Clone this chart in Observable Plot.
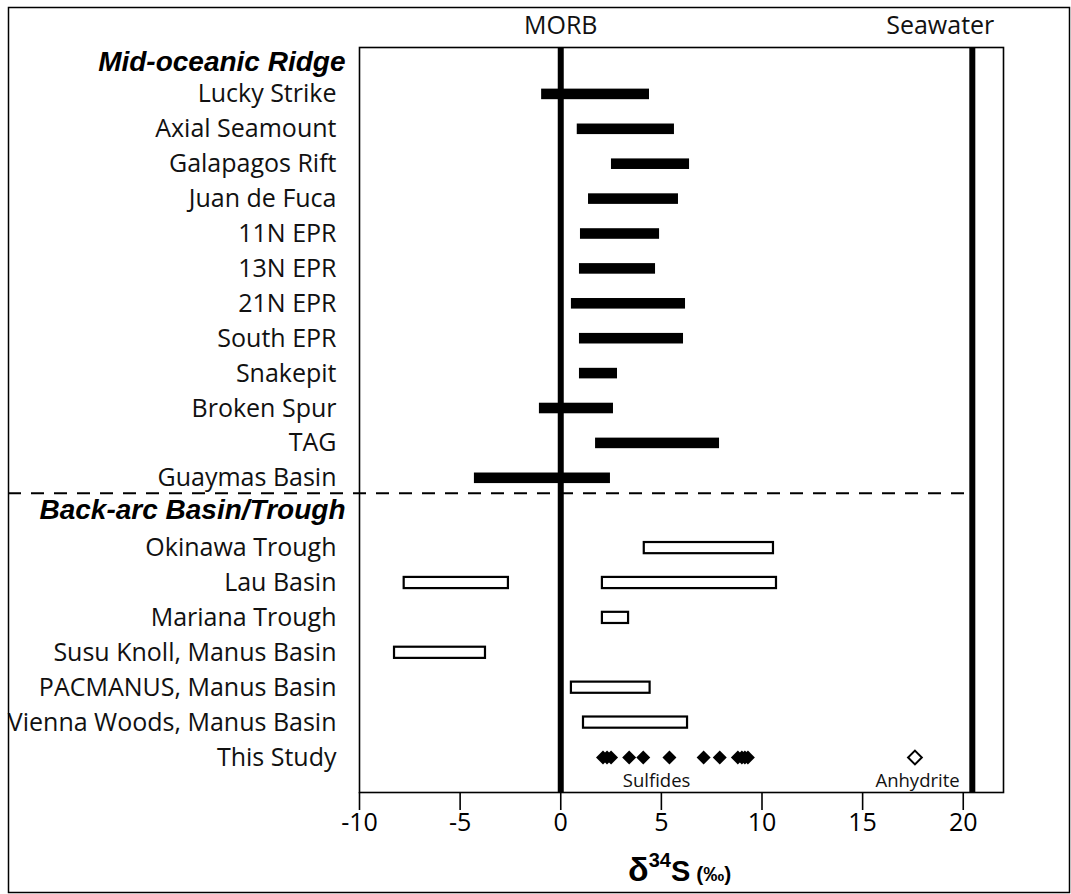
<!DOCTYPE html>
<html><head><meta charset="utf-8">
<script src="https://cdn.jsdelivr.net/npm/d3@7"></script>
<script src="https://cdn.jsdelivr.net/npm/@observablehq/plot@0.6"></script>
<style>
html,body{margin:0;padding:0;background:#fff;}
#chart{position:relative;width:1071px;height:894px;}
</style></head><body><div id="chart"></div>
<script>
// ---- data ----
const headerMOR = "Mid-oceanic Ridge";
const headerBAB = "Back-arc Basin/Trough";
const morSites = ["Lucky Strike","Axial Seamount","Galapagos Rift","Juan de Fuca","11N EPR","13N EPR","21N EPR","South EPR","Snakepit","Broken Spur","TAG","Guaymas Basin"];
const morLow  = [-0.95, 0.82, 2.52, 1.38, 0.98, 0.93, 0.53, 0.93, 0.93, -1.06, 1.73, -4.29];
const morHigh = [4.41, 5.65, 6.40, 5.85, 4.91, 4.71, 6.20, 6.10, 2.82, 2.62, 7.89, 2.47];
const babSites = ["Okinawa Trough","Lau Basin","Lau Basin","Mariana Trough","Susu Knoll, Manus Basin","PACMANUS, Manus Basin","Vienna Woods, Manus Basin"];
const babLow  = [4.15, -7.78, 2.07, 2.07, -8.26, 0.53, 1.13];
const babHigh = [10.57, -2.60, 10.72, 3.37, -3.74, 4.44, 6.30];
const studyLabel = "This Study";
const sulfides = [2.1, 2.3, 2.5, 3.4, 4.1, 5.4, 7.1, 7.9, 8.8, 9.0, 9.15, 9.3];
const anhydrite = [17.6];
const morbValue = 0;
const seawaterValue = 20.45;
const xTicks = [-10, -5, 0, 5, 10, 15, 20];
const refLabels = ["MORB", "Seawater"];
const phaseLabels = ["Sulfides", "Anhydrite"];
const phaseLabelX = [4.76, 17.73];

// ---- derived tables ----
const rows = [headerMOR, ...morSites, headerBAB, ...Array.from(new Set(babSites)), studyLabel];
const siteRows = rows.filter(r => r !== headerMOR && r !== headerBAB);
const morData = morSites.map((s, i) => ({site: s, lo: morLow[i], hi: morHigh[i]}));
const babData = babSites.map((s, i) => ({site: s, lo: babLow[i], hi: babHigh[i]}));
const refData = [{x: morbValue, t: refLabels[0]}, {x: seawaterValue, t: refLabels[1]}];
const phaseData = phaseLabels.map((t, i) => ({t, x: phaseLabelX[i]}));

// ---- layout ----
const W = 1071, H = 894;
const n = rows.length, pin = 0.68;
const firstCenter = 59, lastCenter = 757;
const step = (lastCenter - firstCenter) / (n - 1);
const bw = step * (1 - pin);
const yRange = [firstCenter - bw / 2, lastCenter + bw / 2];
const sans = "'Open Sans', 'Noto Sans', sans-serif";
const arial = "'Liberation Sans', Arial, sans-serif";
const headerStyle = {x: () => -10, y: d => d, text: d => d, textAnchor: "end", dx: -14, fontSize: 28, fontWeight: "bold", fontStyle: "italic", fontFamily: arial, fill: "#000"};

const plot = Plot.plot({
  width: W, height: H,
  marginTop: 47, marginBottom: 102, marginLeft: 359, marginRight: 68,
  x: {domain: [-10, 22]},
  y: {type: "band", domain: rows, range: yRange, paddingInner: pin, paddingOuter: 0, round: false, axis: null},
  style: {fontFamily: sans, color: "#000", background: "#fff"},
  marks: [
    Plot.frame({stroke: "#000", strokeWidth: 1.6}),
    Plot.ruleX([morbValue, seawaterValue], {stroke: "#000", strokeWidth: 6}),
    Plot.barX(morData, {y: "site", x1: "lo", x2: "hi", fill: "#000", insetTop: 0.3, insetBottom: 0.3}),
    Plot.barX(babData, {y: "site", x1: "lo", x2: "hi", fill: "#fff", stroke: "#000", strokeWidth: 2.2}),
    Plot.dot(sulfides, {x: d => d, y: () => studyLabel, symbol: "diamond2", r: 6.3, fill: "#000", stroke: "none"}),
    Plot.dot(anhydrite, {x: d => d, y: () => studyLabel, symbol: "diamond2", r: 6.2, fill: "#fff", stroke: "#000", strokeWidth: 2}),
    Plot.text(phaseData, {x: "x", y: () => studyLabel, text: "t", dy: 24, fontSize: 18.5, fill: "#111"}),
    Plot.text(siteRows, {x: () => -10, y: d => d, text: d => d, textAnchor: "end", dx: -23, fontSize: 25, fill: "#111"}),
    Plot.text([headerMOR], {...headerStyle, dy: 3}),
    Plot.text([headerBAB], {...headerStyle, dy: -3}),
    Plot.text(refData.slice(0, 1), {x: "x", text: "t", frameAnchor: "top", lineAnchor: "middle", dy: -22, fontSize: 25, fill: "#111"}),
    Plot.text(refData.slice(1), {x: "x", text: "t", frameAnchor: "top", lineAnchor: "middle", dy: -22, dx: 22, textAnchor: "end", fontSize: 25, fill: "#111"}),
    Plot.axisX({ticks: xTicks, tickSize: 18, tickPadding: 3, fontSize: 25, label: null, strokeWidth: 1.6, tickFormat: d => String(d).replace("\u2212", "-")})
  ]
});
document.getElementById("chart").appendChild(plot);

// ---- decorations derived from the scales ----
const svg = d3.select(plot);
const xs = plot.scale("x"), ys = plot.scale("y");
const yG = ys.apply("Guaymas Basin"), yB = ys.apply(headerBAB);
const yDash = (yG + yB) / 2 + bw / 2 - 2;
svg.append("line")
  .attr("x1", 8).attr("x2", xs.apply(seawaterValue) - 3)
  .attr("y1", yDash).attr("y2", yDash)
  .attr("stroke", "#000").attr("stroke-width", 2).attr("stroke-dasharray", "13 10");

svg.append("rect")
  .attr("x", 8.5).attr("y", 7.5).attr("width", W - 10).attr("height", H - 9)
  .attr("fill", "none").attr("stroke", "#000").attr("stroke-width", 1.5);

const title = svg.append("text")
  .attr("x", 628).attr("y", 881).attr("text-anchor", "start")
  .attr("font-family", arial).attr("font-weight", "bold").attr("fill", "#000");
title.append("tspan").attr("font-size", 34).text("\u03b4");
title.append("tspan").attr("font-size", 20).attr("dy", -14).text("34");
title.append("tspan").attr("font-size", 29).attr("dy", 14).text("S");
title.append("tspan").attr("font-size", 21).attr("dx", 6).text("(\u2030)");
</script>
</body></html>
